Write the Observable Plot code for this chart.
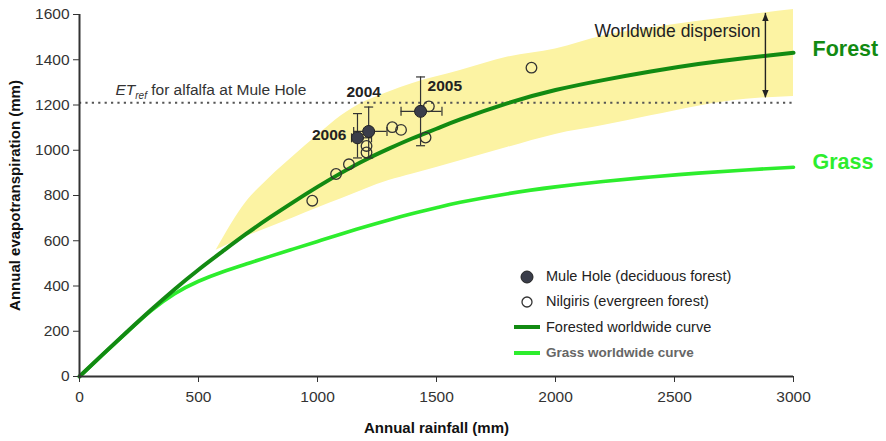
<!DOCTYPE html>
<html><head><meta charset="utf-8">
<script src="https://cdn.jsdelivr.net/npm/d3@7"></script>
<script src="https://cdn.jsdelivr.net/npm/@observablehq/plot@0.6"></script>
<style>
body{margin:0;background:#fff;font-family:"Liberation Sans",Arial,sans-serif;}
#wrap{position:relative;width:886px;height:441px;}
#legend{position:absolute;left:512px;top:264px;font-size:14.5px;color:#222;line-height:25.3px;}
#legend .row{display:flex;align-items:center;height:25.3px;}
#legend svg{width:30px;height:20px;margin-right:4px;}
</style></head><body><div id="wrap"></div>
<script>
// ---- data ----
const rainTicks = [0, 500, 1000, 1500, 2000, 2500, 3000];
const etTicks = [0, 200, 400, 600, 800, 1000, 1200, 1400, 1600];

const curveRain = [0,100,200,300,400,500,600,700,800,900,1000,1100,1200,1300,1400,1500,1600,1800,2000,2200,2400,2600,2800,3000];
const forestET  = [0,100,198,294,386,472,552,630,703,772,838,900,957,1007,1053,1095,1136,1208,1266,1310,1348,1381,1408,1431];
const grassET   = [0,99,196,290,366,421,462,497,531,564,597,630,662,692,720,746,770,808,838,862,882,899,913,925];

const bandRain  = [574,700,800,900,1000,1100,1200,1300,1400,1600,1800,2000,2200,2400,2600,2800,3000];
const bandUpper = [558,770,880,975,1065,1152,1215,1258,1295,1352,1412,1448,1505,1540,1570,1597,1622];
const bandLower = [558,618,660,702,745,786,828,866,895,954,1013,1070,1109,1152,1195,1225,1238];

const muleYear   = ["2004","2005","2006"];
const muleRain   = [1215,1433,1168];
const muleET     = [1083,1172,1055];
const muleRainLo = [1152,1351,1143];
const muleRainHi = [1292,1523,1227];
const muleETLo   = [966,1020,966];
const muleETHi   = [1191,1324,1162];

const nilRain = [978,1078,1132,1206,1206,1314,1351,1454,1468,1899];
const nilET   = [777,895,938,1019,990,1102,1090,1056,1194,1365];

const etRef = 1210;
const etRefLabelRain = 151;
const dispersionRain = 2882;
const dispersionTop = 1605;
const dispersionBottom = 1232;
const dispersionLabelET = 1525;

// ---- tables ----
const forest = curveRain.map((r,i)=>({rain:r, et:forestET[i]}));
const grass = curveRain.map((r,i)=>({rain:r, et:grassET[i]}));
const band = bandRain.map((r,i)=>({rain:r, lo:bandLower[i], hi:bandUpper[i]}));
const mule = muleYear.map((y,i)=>({year:y, rain:muleRain[i], et:muleET[i], rlo:muleRainLo[i], rhi:muleRainHi[i], elo:muleETLo[i], ehi:muleETHi[i]}));
const nil = nilRain.map((r,i)=>({rain:r, et:nilET[i]}));

const DARK = "#128a12", LIGHT = "#2ded2d";

const hcap = {draw(ctx,size){const r=Math.sqrt(size/Math.PI);ctx.moveTo(-r,0);ctx.lineTo(r,0);}};
const vcap = {draw(ctx,size){const r=Math.sqrt(size/Math.PI);ctx.moveTo(0,-r);ctx.lineTo(0,r);}};
const triDown = {draw(ctx,size){const r=Math.sqrt(size/Math.PI);ctx.moveTo(0,0);ctx.lineTo(-r,-2.4*r);ctx.lineTo(r,-2.4*r);ctx.closePath();}};
const triUp = {draw(ctx,size){const r=Math.sqrt(size/Math.PI);ctx.moveTo(0,0);ctx.lineTo(-r,2.4*r);ctx.lineTo(r,2.4*r);ctx.closePath();}};

const chart = Plot.plot({
  width: 886, height: 441,
  marginLeft: 79, marginRight: 93, marginTop: 14, marginBottom: 65,
  style: {fontFamily: '"Liberation Sans", Arial, sans-serif', fontSize: "15px", color: "#333", background: "#fff", overflow: "visible"},
  x: {domain: [0, 3000]},
  y: {domain: [0, 1600]},
  marks: [
    Plot.areaY(band, {x: "rain", y1: "lo", y2: "hi", fill: "#fcf3a3", curve: "monotone-x"}),
    Plot.ruleY([etRef], {stroke: "#555", strokeWidth: 2.2, strokeDasharray: "2.2,4.2"}),
    Plot.line(grass, {x: "rain", y: "et", stroke: LIGHT, strokeWidth: 3.6, curve: "natural"}),
    Plot.line(forest, {x: "rain", y: "et", stroke: DARK, strokeWidth: 4, curve: "natural"}),
    // dispersion arrow
    Plot.ruleX([dispersionRain], {y1: dispersionBottom, y2: dispersionTop, stroke: "#222", strokeWidth: 1.4}),
    Plot.dot([dispersionRain], {x: d=>d, y: dispersionTop, symbol: triUp, r: 3.2, fill: "#222", stroke: "none"}),
    Plot.dot([dispersionRain], {x: d=>d, y: dispersionBottom, symbol: triDown, r: 3.2, fill: "#222", stroke: "none"}),
    Plot.text([dispersionRain], {x: d=>d, y: dispersionLabelET, text: ()=>"Worldwide dispersion", textAnchor: "end", dx: -5, fontSize: 17.5, fill: "#222"}),
    // nilgiris
    Plot.dot(nil, {x: "rain", y: "et", r: 5.3, stroke: "#333", strokeWidth: 1.3, fill: "none"}),
    // mule hole error bars
    Plot.ruleX(mule, {x: "rain", y1: "elo", y2: "ehi", stroke: "#333", strokeWidth: 1.2}),
    Plot.ruleY(mule, {y: "et", x1: "rlo", x2: "rhi", stroke: "#333", strokeWidth: 1.2}),
    Plot.dot(mule, {x: "rain", y: "ehi", symbol: hcap, r: 4.5, stroke: "#333", strokeWidth: 1.2}),
    Plot.dot(mule, {x: "rain", y: "elo", symbol: hcap, r: 4.5, stroke: "#333", strokeWidth: 1.2}),
    Plot.dot(mule, {x: "rlo", y: "et", symbol: vcap, r: 4.5, stroke: "#333", strokeWidth: 1.2}),
    Plot.dot(mule, {x: "rhi", y: "et", symbol: vcap, r: 4.5, stroke: "#333", strokeWidth: 1.2}),
    Plot.dot(mule, {x: "rain", y: "et", r: 6, fill: "#3a3d4a", stroke: "#222", strokeWidth: 1}),
    Plot.text(mule.filter(d=>d.year==="2004"), {x: "rain", y: "et", text: "year", dx: -5, dy: -39, fontWeight: "bold", fontSize: 15.5, fill: "#222"}),
    Plot.text(mule.filter(d=>d.year==="2005"), {x: "rain", y: "et", text: "year", dx: 7, dy: -25, textAnchor: "start", fontWeight: "bold", fontSize: 15.5, fill: "#222"}),
    Plot.text(mule.filter(d=>d.year==="2006"), {x: "rain", y: "et", text: "year", dx: -11, dy: -3, textAnchor: "end", fontWeight: "bold", fontSize: 15.5, fill: "#222"}),
    // ET ref label
    Plot.text([etRef], {x: etRefLabelRain, y: d=>d, text: ()=>"ETREFLABEL", textAnchor: "start", dy: -13, fontSize: 15.5, fill: "#333"}),
    // curve end labels
    Plot.text(forest.slice(-1), {x: "rain", y: "et", text: ()=>"Forest", textAnchor: "start", dx: 19, dy: -4, fontWeight: "bold", fontSize: 21.5, fill: DARK}),
    Plot.text(grass.slice(-1), {x: "rain", y: "et", text: ()=>"Grass", textAnchor: "start", dx: 19, dy: -5, fontWeight: "bold", fontSize: 21.5, fill: LIGHT}),
    // axes
    Plot.axisX({ticks: rainTicks, tickFormat: d=>String(d), tickSize: 6, tickPadding: 8, label: "Annual rainfall (mm)", labelAnchor: "center", labelOffset: 56, fontSize: 15.5, stroke: "#333"}),
    Plot.axisY({ticks: etTicks, tickFormat: d=>String(d), tickSize: 6, tickPadding: 4, label: "Annual evapotranspiration (mm)", labelAnchor: "center", labelOffset: 70, fontSize: 15.5, stroke: "#333"}),
    Plot.ruleX([0], {stroke: "#333", strokeWidth: 2}),
    Plot.ruleY([0], {stroke: "#333", strokeWidth: 2})
  ]
});

// post-process: axis labels bold (no arrows), ET_ref subscript
d3.select(chart).selectAll("text").each(function(){
  const t = d3.select(this);
  if (t.text() === "ETREFLABEL") {
    t.text(null);
    t.append("tspan").attr("font-style","italic").text("ET");
    t.append("tspan").attr("font-style","italic").attr("font-size","10px").attr("dy","4").text("ref");
    t.append("tspan").attr("dy","-4").text(" for alfalfa at Mule Hole");
  }
});
d3.select(chart).selectAll('g[aria-label="x-axis label"] text').text("Annual rainfall (mm)");
d3.select(chart).selectAll('g[aria-label="y-axis label"] text').text("Annual evapotranspiration (mm)");
d3.select(chart).selectAll('g[aria-label="x-axis label"] text, g[aria-label="y-axis label"] text')
  .attr("font-weight","bold").attr("font-size","15px").attr("fill","#111");
d3.select(chart).selectAll('g[aria-label="x-axis tick label"] text, g[aria-label="y-axis tick label"] text').attr("fill","#333");

const wrap = document.getElementById("wrap");
wrap.appendChild(chart);

// legend
const legend = document.createElement("div");
legend.id = "legend";
legend.innerHTML = `
<div class="row"><svg viewBox="0 0 30 20"><circle cx="15" cy="10" r="6" fill="#3a3d4a" stroke="#222"/></svg>Mule Hole (deciduous forest)</div>
<div class="row"><svg viewBox="0 0 30 20"><circle cx="15" cy="10" r="5" fill="none" stroke="#333" stroke-width="1.3"/></svg>Nilgiris (evergreen forest)</div>
<div class="row"><svg viewBox="0 0 30 20"><line x1="2" x2="28" y1="10" y2="10" stroke="${DARK}" stroke-width="4"/></svg>Forested worldwide curve</div>
<div class="row" style="color:#666;font-weight:bold;font-size:13.5px"><svg viewBox="0 0 30 20"><line x1="2" x2="28" y1="10" y2="10" stroke="${LIGHT}" stroke-width="4"/></svg>Grass worldwide curve</div>`;
wrap.appendChild(legend);
</script>
</body></html>
